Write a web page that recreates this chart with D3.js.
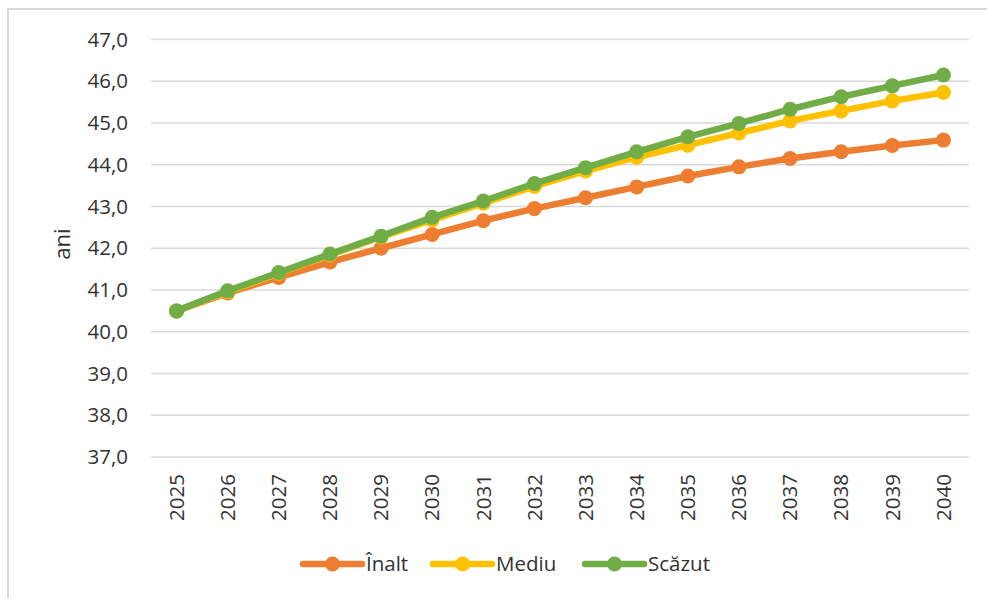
<!DOCTYPE html>
<html>
<head>
<meta charset="utf-8">
<script src="https://cdn.jsdelivr.net/npm/d3@7"></script>
<style>
  body { margin: 0; background: #fff; }
  text { font-family: "Open Sans", "Noto Sans", sans-serif; fill: #333; }
</style>
</head>
<body>
<div id="chart"></div>
<script>
// data
var years = ["2025","2026","2027","2028","2029","2030","2031","2032","2033","2034","2035","2036","2037","2038","2039","2040"];
var inalt  = [40.5, 40.93, 41.3, 41.67, 42.0, 42.33, 42.66, 42.95, 43.21, 43.47, 43.73, 43.95, 44.15, 44.31, 44.46, 44.59];
var mediu  = [40.5, 40.96, 41.4, 41.84, 42.27, 42.68, 43.08, 43.48, 43.85, 44.18, 44.47, 44.76, 45.05, 45.29, 45.53, 45.73];
var scazut = [40.5, 40.98, 41.42, 41.86, 42.29, 42.74, 43.13, 43.55, 43.93, 44.31, 44.67, 44.99, 45.33, 45.63, 45.89, 46.15];
var yTicks = [37, 38, 39, 40, 41, 42, 43, 44, 45, 46, 47];
var seriesNames = ["Înalt", "Mediu", "Scăzut"];
var seriesColors = ["#ED7D31", "#FFC000", "#70AD47"];

var width = 987, height = 598;
var plotLeft = 151, plotRight = 969, plotTop = 39.5, plotBottom = 457;

var svg = d3.select("#chart").append("svg").attr("width", width).attr("height", height);

// chart frame (only top and left edges visible)
svg.append("path").attr("d", "M8,598 L8,9 L987,9")
    .attr("fill", "none").attr("stroke", "#D9D9D9").attr("stroke-width", 2);

var x = d3.scaleBand().domain(years).range([plotLeft, plotRight]);
var y = d3.scaleLinear().domain([37, 47]).range([plotBottom, plotTop]);

// gridlines
svg.append("g").selectAll("line").data(yTicks).enter().append("line")
    .attr("x1", plotLeft).attr("x2", plotRight)
    .attr("y1", function(d) { return y(d); }).attr("y2", function(d) { return y(d); })
    .attr("stroke", "#D9D9D9").attr("stroke-width", 1.5);

var yAxis = d3.axisLeft(y).tickValues(yTicks).tickSize(0).tickPadding(23)
    .tickFormat(function(d) { return d3.format(".1f")(d).replace(".", ","); });
var gy = svg.append("g").attr("transform", "translate(" + plotLeft + ",0)").call(yAxis);
gy.select(".domain").remove();
gy.selectAll("text").style("font-size", "20.5px").attr("fill", "#333");

var xAxis = d3.axisBottom(x).tickSize(0);
var gx = svg.append("g").attr("transform", "translate(0," + plotBottom + ")").call(xAxis);
gx.select(".domain").remove();
gx.selectAll("text")
    .style("font-size", "20.5px").attr("fill", "#333")
    .attr("transform", "rotate(-90)")
    .attr("text-anchor", "end")
    .attr("x", -17).attr("y", 0).attr("dy", "0.35em");

// axis title
svg.append("text").attr("transform", "translate(62,244) rotate(-90)")
    .attr("text-anchor", "middle").attr("dy", "0.35em").style("font-size", "22px").text("ani");

var allSeries = [inalt, mediu, scazut];
var line = d3.line()
    .x(function(d, i) { return x(years[i]) + x.bandwidth() / 2; })
    .y(function(d) { return y(d); });

allSeries.forEach(function(s, k) {
    svg.append("path").attr("d", line(s))
        .attr("fill", "none").attr("stroke", seriesColors[k])
        .attr("stroke-width", 6.5).attr("stroke-linejoin", "round");
    svg.append("g").selectAll("circle").data(s).enter().append("circle")
        .attr("cx", function(d, i) { return x(years[i]) + x.bandwidth() / 2; })
        .attr("cy", function(d) { return y(d); })
        .attr("r", 7.5).attr("fill", seriesColors[k]);
});

// legend
var legendX = [303, 433, 585];
var legend = svg.append("g");
seriesNames.forEach(function(name, k) {
    var g = legend.append("g").attr("transform", "translate(" + legendX[k] + ",564)");
    g.append("line").attr("x1", 0).attr("x2", 59).attr("y1", 0).attr("y2", 0)
        .attr("stroke", seriesColors[k]).attr("stroke-width", 6.5).attr("stroke-linecap", "round");
    g.append("circle").attr("cx", 29.5).attr("cy", 0).attr("r", 7.5).attr("fill", seriesColors[k]);
    g.append("text").attr("x", 63).attr("y", 0).attr("dy", "0.35em")
        .style("font-size", "20.5px").text(name);
});
</script>
</body>
</html>
